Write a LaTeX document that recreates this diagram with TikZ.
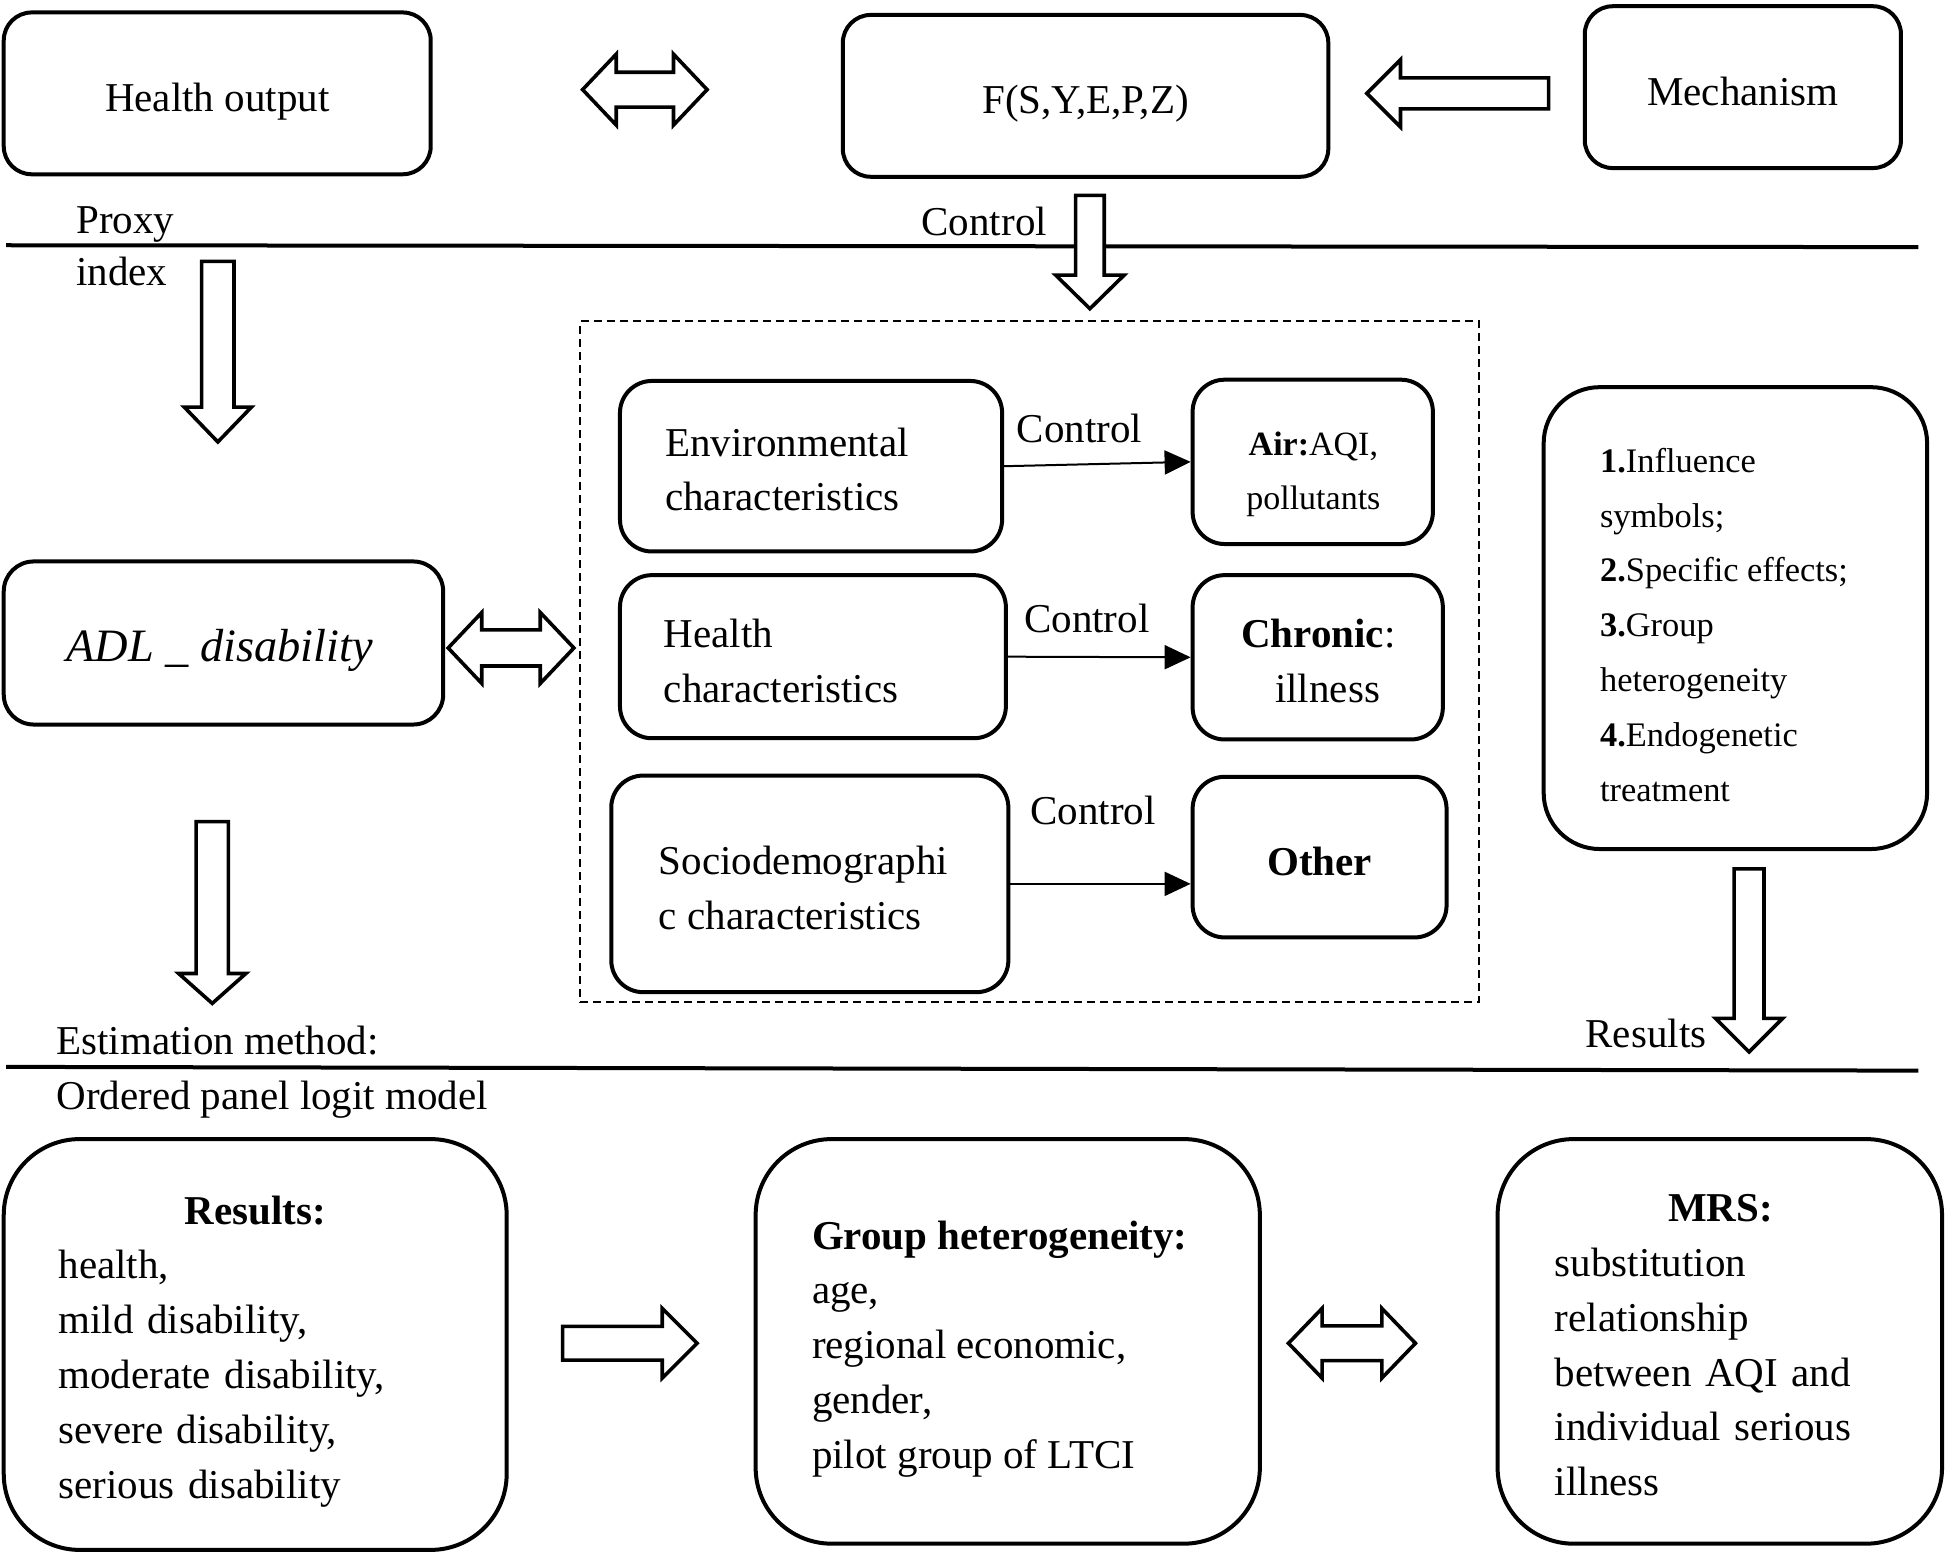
\documentclass[tikz,border=0pt]{standalone}
\usepackage{fontspec}
\setmainfont{Liberation Serif}
\usetikzlibrary{arrows.meta}
\def\PX{0.6224pt}
\newcommand\arrDown[6]{%
  \draw[hollow] ({#1-#4},{#2}) -- ({#1+#4},{#2}) -- ({#1+#4},{#3-#6}) -- ({#1+#5},{#3-#6}) -- ({#1},{#3}) -- ({#1-#5},{#3-#6}) -- ({#1-#4},{#3-#6}) -- cycle;}
\newcommand\arrRight[6]{%
  \draw[hollow] ({#2},{#1-#4}) -- ({#3-#6},{#1-#4}) -- ({#3-#6},{#1-#5}) -- ({#3},{#1}) -- ({#3-#6},{#1+#5}) -- ({#3-#6},{#1+#4}) -- ({#2},{#1+#4}) -- cycle;}
\newcommand\arrLeft[6]{%
  \draw[hollow] ({#2},{#1-#4}) -- ({#3+#6},{#1-#4}) -- ({#3+#6},{#1-#5}) -- ({#3},{#1}) -- ({#3+#6},{#1+#5}) -- ({#3+#6},{#1+#4}) -- ({#2},{#1+#4}) -- cycle;}
\newcommand\arrLR[6]{%
  \draw[hollow] ({#2},{#1}) -- ({#2+#6},{#1-#5}) -- ({#2+#6},{#1-#4}) -- ({#3-#6},{#1-#4}) -- ({#3-#6},{#1-#5}) -- ({#3},{#1}) -- ({#3-#6},{#1+#5}) -- ({#3-#6},{#1+#4}) -- ({#2+#6},{#1+#4}) -- ({#2+#6},{#1+#5}) -- cycle;}
\tikzset{
  box/.style={draw, line width=2pt, inner sep=0pt},
  hollow/.style={draw, line width=1.8pt, line join=miter, fill=white},
  txt/.style={inner sep=0pt, yshift=-1.6pt, font=\fontsize{20.5}{27.4}\selectfont, align=left},
  ctl/.style={-{Triangle[length=13pt,width=12pt]}, line width=1pt},
  rulel/.style={line width=2pt},
  dashbox/.style={draw, dash pattern=on 4pt off 2.5pt, line width=1.3pt, inner sep=0pt},
}
\begin{document}
\begin{tikzpicture}[x=0.6224pt,y=-0.6224pt]
\useasboundingbox (0,0) rectangle (1568,1247);

% ---------- top row ----------
\node[box, rounded corners=14pt, minimum width=343*\PX, minimum height=130*\PX] (ho) at (174.5,75) {};
\node[txt] (hot) at (174.5,78) {\strut Health output};
\node[box, rounded corners=14pt, minimum width=390*\PX, minimum height=130*\PX] (f) at (872,77) {};
\node[txt] (ft) at (872,80) {\strut F(S,Y,E,P,Z)};
\node[box, rounded corners=14pt, minimum width=254*\PX, minimum height=130*\PX] (mech) at (1400,70) {};
\node[txt] (mecht) at (1400,73) {\strut Mechanism};

\arrLR{72}{468}{568}{14}{28.5}{27}
\arrLeft{75}{1244}{1098}{12.5}{27}{27}

\node[txt, anchor=west] (proxy) at (61,176) {\strut Proxy};
\node[txt, anchor=west] (index) at (61,218) {\strut index};
\node[txt, anchor=west] (ctop) at (740,178) {\strut Control};

\draw[rulel] (5,197) -- (1541,198.5);

\arrDown{875.5}{157}{248}{11.5}{27.5}{27}
\arrDown{175}{210}{355}{13}{27}{28}

% ---------- middle ----------
\node[box, rounded corners=15pt, minimum width=353*\PX, minimum height=131*\PX] (adl) at (179.5,516.5) {};
\node[txt, font=\fontsize{23.2}{27.4}\selectfont] (adlt) at (176.5,520) {\strut\textit{ADL \_ disability}};
\arrLR{520.5}{360}{461}{14.5}{28.5}{27}
\arrDown{170.5}{660}{806}{13}{27}{24}

\node[dashbox, minimum width=722*\PX, minimum height=547*\PX] (dash) at (827,531.5) {};

\node[box, rounded corners=16pt, minimum width=307*\PX, minimum height=137*\PX] (env) at (651.5,374.5) {};
\node[txt, anchor=west] (envt) at (534,377) {\strut Environmental\\\strut characteristics};
\node[box, rounded corners=16pt, minimum width=193*\PX, minimum height=132*\PX] (air) at (1054.5,371) {};
\node[txt, align=center, font=\fontsize{17}{26.8}\selectfont] (airt) at (1055,376.5) {\strut\textbf{Air:}AQI,\\\strut pollutants};

\node[box, rounded corners=16pt, minimum width=310*\PX, minimum height=131*\PX] (hea) at (653,527.5) {};
\node[txt, anchor=west] (heat) at (533,531) {\strut Health\\\strut characteristics};
\node[box, rounded corners=16pt, minimum width=201*\PX, minimum height=132*\PX] (chr) at (1058.5,528) {};
\node[txt, align=center] (chrt) at (1059,531) {\strut\textbf{Chronic}:\\\strut\hspace*{0.45em}illness};

\node[box, rounded corners=16pt, minimum width=319*\PX, minimum height=174*\PX] (soc) at (650.5,710) {};
\node[txt, anchor=west] (soct) at (529,713) {\strut Sociodemographi\\\strut c characteristics};
\node[box, rounded corners=16pt, minimum width=204*\PX, minimum height=129*\PX] (oth) at (1060,688.5) {};
\node[txt] (otht) at (1060,692) {\strut\textbf{Other}};

\draw[ctl] (env.east) -- (air.west);
\draw[ctl] (hea.east) -- (chr.west);
\draw[ctl] (soc.east) -- (soc.east -| oth.west);
\node[txt] (c1) at (867,344) {\strut Control};
\node[txt] (c2) at (873,497) {\strut Control};
\node[txt] (c3) at (878,651) {\strut Control};

\node[box, rounded corners=28pt, minimum width=308*\PX, minimum height=371*\PX] (rb) at (1394,496.5) {};
\node[txt, anchor=west, font=\fontsize{17.2}{27.4}\selectfont] (rbt) at (1285,500) {\strut\textbf{1.}Influence\\\strut symbols;\\\strut\textbf{2.}Specific effects;\\\strut\textbf{3.}Group\\\strut heterogeneity\\\strut\textbf{4.}Endogenetic\\\strut treatment};
\arrDown{1405}{698}{845}{12}{27}{27}
\node[txt, anchor=east] (rest2) at (1371,830) {\strut Results};

\node[txt, anchor=west] (est) at (45,836) {\strut Estimation method:};
\draw[rulel] (5,857) -- (1541,860);
\node[txt, anchor=west] (opl) at (45,880) {\strut Ordered panel logit model};

% ---------- bottom ----------
\node[box, rounded corners=38pt, minimum width=404*\PX, minimum height=330*\PX] (res) at (205,1080) {};
\node[txt, text width=316*\PX] (rest) at (205,1082) {\makebox[\linewidth]{\strut\textbf{Results:}}\\\strut health,\\\strut mild disability,\\\strut moderate disability,\\\strut severe disability,\\\strut serious disability};

\arrRight{1079}{452}{560}{13.5}{28}{28}

\node[box, rounded corners=38pt, minimum width=405*\PX, minimum height=325*\PX] (grp) at (809.5,1077.5) {};
\node[txt, anchor=west] (grpt) at (652,1080) {\strut\textbf{Group heterogeneity:}\\\strut age,\\\strut regional economic,\\\strut gender,\\\strut pilot group of LTCI};

\arrLR{1079}{1035}{1137}{14}{28}{27}

\node[box, rounded corners=38pt, minimum width=357*\PX, minimum height=325*\PX] (mrs) at (1381.5,1077.5) {};
\node[txt, text width=266*\PX] (mrst) at (1382,1080) {\makebox[\linewidth]{\strut\textbf{MRS:}}\\\strut substitution\\\strut relationship\\\strut between AQI and\\\strut individual serious\\\strut illness};
\end{tikzpicture}
\end{document}
